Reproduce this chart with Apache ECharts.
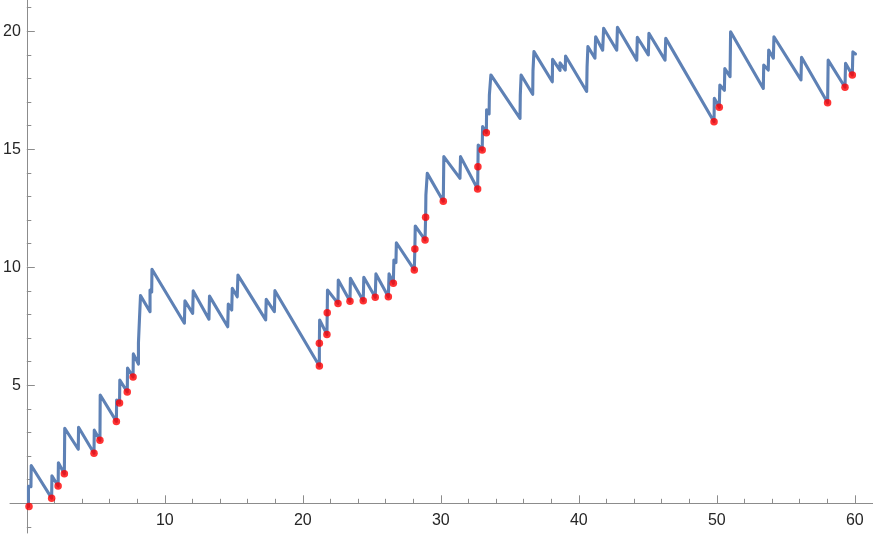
<!DOCTYPE html>
<html lang="en">
<head>
    <meta charset="UTF-8">
    <title>sawtooth path</title>
    <script src="https://cdn.jsdelivr.net/npm/echarts@6/dist/echarts.min.js"></script>
    <style>
        html, body { margin: 0; padding: 0; background: #fff; }
        #main { width: 873px; height: 536px; }
    </style>
</head>
<body>
    <div id="main"></div>
    <script type="text/javascript">
        // path of the process: jumps are two points with the same x
        var pathPoints = [
            [0.12, -0.14], [0.12, 0.72], [0.30, 0.70], [0.32, 1.60],
            [1.80, 0.22], [1.82, 1.17], [2.27, 0.73], [2.29, 1.72],
            [2.72, 1.25], [2.75, 3.18], [3.73, 2.29], [3.75, 3.22],
            [4.87, 2.12], [4.89, 3.10], [5.30, 2.67], [5.32, 4.59],
            [6.49, 3.47], [6.51, 4.38], [6.72, 4.25], [6.74, 5.22],
            [7.28, 4.72], [7.30, 5.73], [7.70, 5.35], [7.72, 6.33],
            [8.09, 5.90], [8.09, 6.80], [8.16, 6.75], [8.16, 7.75],
            [8.22, 7.70], [8.24, 8.80], [8.93, 8.12], [8.93, 9.04],
            [9.05, 8.95], [9.07, 9.92],
            [11.42, 7.63], [11.46, 8.58], [12.02, 8.05], [12.06, 9.00],
            [13.20, 7.80], [13.24, 8.78], [14.56, 7.48], [14.60, 8.44],
            [14.85, 8.19], [14.89, 9.11], [15.25, 8.75], [15.30, 9.67],
            [17.31, 7.77], [17.35, 8.64], [17.94, 8.12], [17.98, 9.01],
            [21.20, 5.82], [21.20, 6.78], [21.22, 7.77], [21.75, 7.15],
            [21.77, 8.07], [21.79, 9.04], [22.55, 8.47], [22.57, 9.46],
            [23.42, 8.56], [23.45, 9.53], [24.38, 8.58], [24.42, 9.58],
            [25.25, 8.73], [25.30, 9.72], [26.20, 8.75], [26.25, 9.72],
            [26.56, 9.32], [26.60, 10.31], [26.75, 10.20], [26.78, 11.04],
            [28.08, 9.89], [28.12, 10.78], [28.15, 11.75], [28.86, 11.16],
            [28.90, 12.12], [28.92, 13.06], [29.00, 13.00], [29.02, 13.98],
            [30.18, 12.80], [30.22, 14.69], [31.39, 13.77], [31.43, 14.69],
            [32.67, 13.32], [32.69, 14.26], [32.71, 15.18], [33.00, 14.97],
            [33.03, 15.96], [33.30, 15.70], [33.32, 16.67], [33.50, 16.50],
            [33.52, 17.30], [33.60, 17.25], [33.63, 18.15],
            [35.74, 16.31], [35.76, 17.30], [35.80, 17.28], [35.82, 18.15],
            [36.66, 17.33], [36.68, 18.32], [36.73, 18.28], [36.75, 19.14],
            [38.08, 17.86], [38.10, 18.81], [38.64, 18.34], [38.64, 18.66],
            [39.02, 18.36], [39.04, 18.95],
            [40.57, 17.45], [40.60, 18.50], [40.64, 18.45], [40.66, 19.35],
            [41.17, 18.86], [41.22, 19.77], [41.73, 19.20], [41.80, 20.13],
            [42.75, 19.20], [42.80, 20.17], [44.20, 18.78], [44.24, 19.75],
            [45.04, 19.00], [45.08, 19.92], [46.25, 18.78], [46.30, 19.70],
            [49.80, 16.17], [49.82, 17.16], [50.18, 16.78], [50.22, 17.72],
            [50.55, 17.50], [50.58, 18.42], [50.96, 18.08], [51.00, 19.98],
            [53.37, 17.58], [53.40, 18.57], [53.73, 18.36], [53.76, 19.21],
            [54.10, 18.86], [54.14, 19.77], [56.10, 17.94], [56.14, 18.90],
            [58.03, 16.97], [58.07, 18.78], [59.29, 17.63], [59.33, 18.64],
            [59.82, 18.15], [59.86, 19.13], [60.05, 19.04]
        ];

        // red points (level just before some of the jumps)
        var redDots = [
            [0.16, -0.14], [1.80, 0.21], [2.27, 0.73], [2.72, 1.25],
            [4.87, 2.12], [5.30, 2.67], [6.49, 3.47], [6.72, 4.25],
            [7.28, 4.72], [7.70, 5.35],
            [21.20, 5.82], [21.20, 6.78], [21.75, 7.15], [21.77, 8.07],
            [22.55, 8.47], [23.42, 8.56], [24.38, 8.58], [25.25, 8.73],
            [26.20, 8.75], [26.56, 9.32], [28.08, 9.89], [28.12, 10.78],
            [28.86, 11.16], [28.90, 12.12], [30.18, 12.80], [32.67, 13.32],
            [32.69, 14.26], [33.00, 14.97], [33.30, 15.70],
            [49.80, 16.17], [50.18, 16.78], [58.03, 16.97], [59.29, 17.63],
            [59.82, 18.15]
        ];

        var xTicks = { min: 0, max: 60, step: 10, minorSplit: 5 };
        var yTicks = { min: -5, max: 25, step: 5, minorSplit: 5 };

        var axisGray = '#8c8c8c';
        var labelFont = { fontFamily: 'Liberation Sans, Arial, sans-serif', fontSize: 16, color: '#262626' };

        var myChart = echarts.init(document.getElementById('main'), null, { renderer: 'canvas' });

        var option = {
            animation: false,
            backgroundColor: '#ffffff',
            grid: [
                // data grid + y ticks, y range stretched past the picture so ticks sit on multiples of 5
                { left: 26.8, right: 18.2, top: -86.7, bottom: -85.3, outerBoundsMode: 'none' },
                // only draws the long axis lines
                { left: 10, right: 0, top: 0, bottom: 3, outerBoundsMode: 'none' },
                // x ticks and labels, bottom edge on y = 0
                { left: 26.8, right: 18.2, top: 0, bottom: 32.7, outerBoundsMode: 'none' }
            ],
            xAxis: [
                { type: 'value', gridIndex: 0, min: xTicks.min, max: xTicks.max, show: false },
                {
                    type: 'value', gridIndex: 1,
                    min: -1.217, max: 61.32,
                    axisLine: { show: true, onZero: true, lineStyle: { color: axisGray, width: 1 } },
                    axisTick: { show: false }, axisLabel: { show: false }, splitLine: { show: false }
                },
                {
                    type: 'value', gridIndex: 2, position: 'bottom',
                    min: xTicks.min, max: xTicks.max, interval: xTicks.step,
                    axisLine: { show: false, onZero: false },
                    axisTick: { show: true, inside: true, length: 8, lineStyle: { color: axisGray } },
                    minorTick: { show: true, splitNumber: xTicks.minorSplit, length: 4.5, lineStyle: { color: axisGray } },
                    splitLine: { show: false },
                    axisLabel: Object.assign({
                        margin: 9,
                        formatter: function (v) { return v === 0 ? '' : String(v); }
                    }, labelFont)
                }
            ],
            yAxis: [
                {
                    type: 'value', gridIndex: 0, position: 'left',
                    min: yTicks.min, max: yTicks.max, interval: yTicks.step,
                    axisLine: { show: false, onZero: false },
                    axisTick: { show: true, inside: true, length: 8, lineStyle: { color: axisGray } },
                    minorTick: { show: true, splitNumber: yTicks.minorSplit, length: 4.5, lineStyle: { color: axisGray } },
                    splitLine: { show: false },
                    axisLabel: Object.assign({
                        margin: 6,
                        formatter: function (v) { return (v <= 0 || v > 20) ? '' : String(v); }
                    }, labelFont)
                },
                {
                    type: 'value', gridIndex: 1,
                    min: -1.258, max: 21.33,
                    axisLine: { show: true, onZero: true, lineStyle: { color: axisGray, width: 1 } },
                    axisTick: { show: false }, axisLabel: { show: false }, splitLine: { show: false }
                },
                { type: 'value', gridIndex: 2, min: 0, max: 1, show: false }
            ],
            series: [
                {
                    name: 'path',
                    type: 'line',
                    xAxisIndex: 0, yAxisIndex: 0,
                    data: pathPoints,
                    showSymbol: false,
                    symbol: 'none',
                    clip: false,
                    lineStyle: { color: '#5e81b5', width: 3.1, join: 'round', cap: 'round' },
                    z: 2
                },
                {
                    name: 'dots',
                    type: 'scatter',
                    xAxisIndex: 0, yAxisIndex: 0,
                    data: redDots,
                    symbol: 'circle',
                    symbolSize: 7.5,
                    itemStyle: { color: '#ff0000' },
                    z: 3
                }
            ]
        };
        myChart.setOption(option);
    </script>
</body>
</html>
